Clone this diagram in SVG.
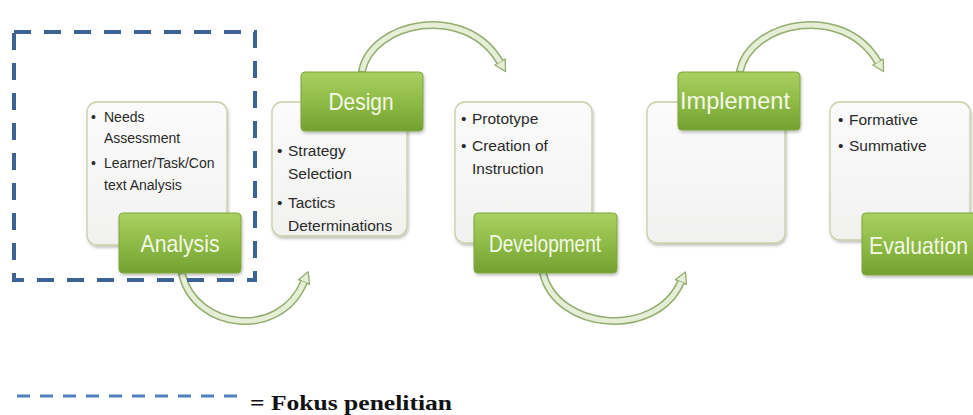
<svg xmlns="http://www.w3.org/2000/svg" width="973" height="415" viewBox="0 0 973 415">
<defs>
<linearGradient id="gGreen" x1="0" y1="0" x2="0" y2="1">
<stop offset="0" stop-color="#a9d062"/>
<stop offset="0.5" stop-color="#8fbb47"/>
<stop offset="1" stop-color="#73a031"/>
</linearGradient>
<linearGradient id="gBox" x1="0" y1="0" x2="0" y2="1">
<stop offset="0" stop-color="#fbfbfb"/>
<stop offset="1" stop-color="#f1f2f0"/>
</linearGradient>
<filter id="shadow" x="-10%" y="-10%" width="130%" height="130%">
<feDropShadow dx="1" dy="2" stdDeviation="1.6" flood-color="#000" flood-opacity="0.25"/>
</filter>
<marker id="head" markerUnits="userSpaceOnUse" markerWidth="14" markerHeight="16" refX="0" refY="7" orient="auto" viewBox="-1 -1 14 16">
<path d="M0,1 L11,7 L0,13 Z" fill="#e6eed8" stroke="#93ad6f" stroke-width="1.3" stroke-linejoin="round"/>
</marker>
<style>
.tb{fill:url(#gBox);stroke:#c9cfa6;stroke-width:1.3;filter:url(#shadow)}
.gb{fill:url(#gGreen);stroke:#7fa63e;stroke-width:1;filter:url(#shadow)}
.tt{font-family:"Liberation Sans",Arial,sans-serif;font-size:24px;fill:#f3f9e6}
.bt{font-family:"Liberation Sans",Arial,sans-serif;font-size:15.5px;fill:#2a2a2a}
.bs{font-size:14px}
.ao{fill:none;stroke:#93ad6f;stroke-width:8;stroke-linecap:round}
.ai{fill:none;stroke:#e6eed8;stroke-width:5;stroke-linecap:butt}
</style>
</defs>
<rect width="973" height="415" fill="#fff"/>

<g id="connectors">
<path class="ao" d="M 362 71 C 372 22, 465 2, 500 62" marker-end="url(#head)"/>
<path class="ai" d="M 362 71 C 372 22, 465 2, 500 62"/>
<path class="ao" d="M 740 71 C 750 22, 843 2, 878 62" marker-end="url(#head)"/>
<path class="ai" d="M 740 71 C 750 22, 843 2, 878 62"/>
<path class="ao" d="M 182 274 C 195 330, 280 340, 304 282" marker-end="url(#head)"/>
<path class="ai" d="M 182 274 C 195 330, 280 340, 304 282"/>
<path class="ao" d="M 543 273 C 556 330, 655 340, 681 282" marker-end="url(#head)"/>
<path class="ai" d="M 543 273 C 556 330, 655 340, 681 282"/>
</g>

<g id="analysis">
<rect class="tb" x="87" y="102" width="140" height="143" rx="10"/>
<text class="bt bs"><tspan x="91" y="122">•</tspan><tspan x="104" y="122">Needs</tspan><tspan x="104" y="143">Assessment</tspan><tspan x="91" y="168">•</tspan><tspan x="104" y="168">Learner/Task/Con</tspan><tspan x="104" y="190">text Analysis</tspan></text>
<rect class="gb" x="119" y="213" width="122" height="60" rx="4"/>
<text class="tt" x="180" y="252" text-anchor="middle" textLength="79" lengthAdjust="spacingAndGlyphs">Analysis</text>
</g>

<g id="design">
<rect class="tb" x="272" y="102" width="135" height="134" rx="10"/>
<text class="bt"><tspan x="277" y="156">•</tspan><tspan x="288" y="156">Strategy</tspan><tspan x="288" y="179">Selection</tspan><tspan x="277" y="208">•</tspan><tspan x="288" y="208">Tactics</tspan><tspan x="288" y="231">Determinations</tspan></text>
<rect class="gb" x="301" y="72" width="122" height="59" rx="4"/>
<text class="tt" x="361" y="110" text-anchor="middle" textLength="65" lengthAdjust="spacingAndGlyphs">Design</text>
</g>

<g id="development">
<rect class="tb" x="455" y="102" width="137" height="141" rx="10"/>
<text class="bt"><tspan x="461" y="124">•</tspan><tspan x="472" y="124">Prototype</tspan><tspan x="461" y="151">•</tspan><tspan x="472" y="151">Creation of</tspan><tspan x="472" y="174">Instruction</tspan></text>
<rect class="gb" x="474" y="213" width="143" height="60" rx="4"/>
<text class="tt" x="545" y="252" text-anchor="middle" textLength="112" lengthAdjust="spacingAndGlyphs">Development</text>
</g>

<g id="implement">
<rect class="tb" x="647" y="102" width="138" height="141" rx="10"/>
<rect class="gb" x="678" y="72" width="122" height="58" rx="4"/>
<text class="tt" x="735" y="109" text-anchor="middle" textLength="110" lengthAdjust="spacingAndGlyphs">Implement</text>
</g>

<g id="evaluation">
<rect class="tb" x="830" y="102" width="140" height="138" rx="10"/>
<text class="bt"><tspan x="838" y="125">•</tspan><tspan x="849" y="125">Formative</tspan><tspan x="838" y="151">•</tspan><tspan x="849" y="151">Summative</tspan></text>
<rect class="gb" x="862" y="213" width="125" height="62" rx="4"/>
<text class="tt" x="869" y="254" textLength="99" lengthAdjust="spacingAndGlyphs">Evaluation</text>
</g>

<g id="focus-box">
<rect x="14" y="32" width="241" height="248" fill="none" stroke="#3b6495" stroke-width="4" stroke-dasharray="17 13"/>
</g>

<g id="legend">
<line x1="17" y1="396" x2="247" y2="396" stroke="#4f80c0" stroke-width="3" stroke-dasharray="13 10"/>
<text x="250" y="410" font-family="'Liberation Serif','Times New Roman',serif" font-weight="bold" font-size="20" fill="#111" textLength="202" lengthAdjust="spacingAndGlyphs">= Fokus penelitian</text>
</g>
</svg>
